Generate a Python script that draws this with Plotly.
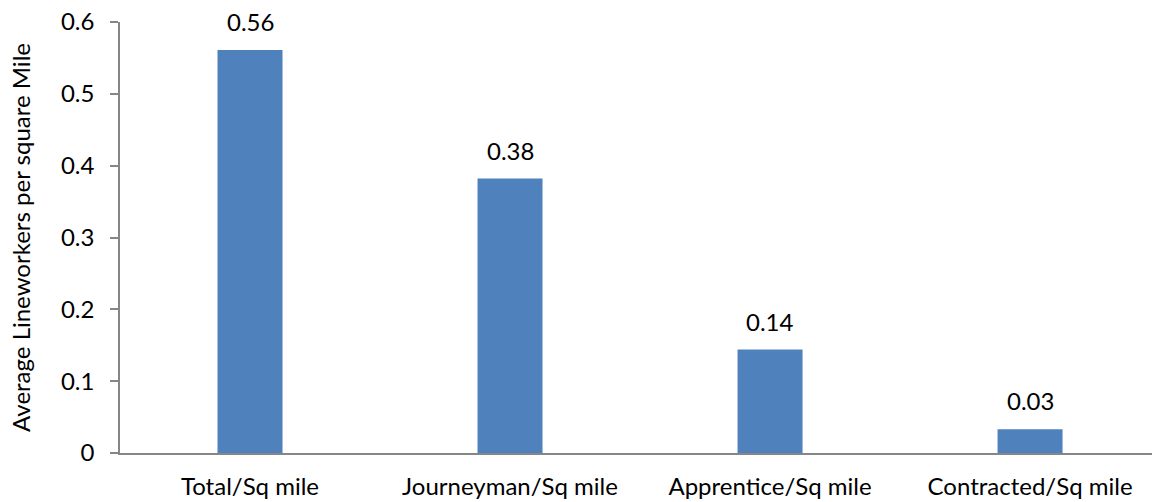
import plotly.graph_objects as go

categories = ["Total/Sq mile", "Journeyman/Sq mile", "Apprentice/Sq mile", "Contracted/Sq mile"]
values = [0.561, 0.382, 0.144, 0.033]
labels = ["0.56", "0.38", "0.14", "0.03"]
y_ticks = [0, 0.1, 0.2, 0.3, 0.4, 0.5, 0.6]
y_ticktext = ["0", "0.1", "0.2", "0.3", "0.4", "0.5", "0.6"]

FONT = "Lato"
FS = 24

fig = go.Figure()
fig.add_trace(go.Bar(
    x=categories, y=values,
    marker=dict(color="#4F81BD", line=dict(width=0)),
    width=0.25,
))

for c, v, t in zip(categories, values, labels):
    fig.add_annotation(x=c, y=v, text=t, showarrow=False, yanchor="bottom",
                       yshift=12, font=dict(family=FONT, size=FS, color="#000000"))

fig.update_layout(
    width=1152, height=502,
    margin=dict(l=120, r=0, t=22, b=49, autoexpand=False),
    paper_bgcolor="white", plot_bgcolor="white",
    showlegend=False,
    font=dict(family=FONT, size=FS, color="#000000"),
    xaxis=dict(
        range=[-0.5, 3.469], showline=True, linecolor="#868686", linewidth=1.5,
        ticks="", showgrid=False, zeroline=False, tickfont=dict(size=FS),
        ticklabelstandoff=11, automargin=False,
    ),
    yaxis=dict(
        range=[0, 0.6], tickvals=y_ticks, ticktext=y_ticktext,
        showline=True, linecolor="#868686", linewidth=1.5,
        ticks="outside", ticklen=8, tickcolor="#868686", tickwidth=1.5,
        showgrid=False, zeroline=False, tickfont=dict(size=FS),
        ticklabelstandoff=11, automargin=False,
        title=dict(text="Average Lineworkers per square Mile", font=dict(size=FS), standoff=24),
    ),
)

fig.write_html(
    "out.html", config={"displayModeBar": False},
    post_script=(
        "document.body.style.margin='0';document.body.style.padding='0';"
        "document.body.style.overflow='hidden';"
        "document.documentElement.style.overflow='hidden';"
    ),
)
